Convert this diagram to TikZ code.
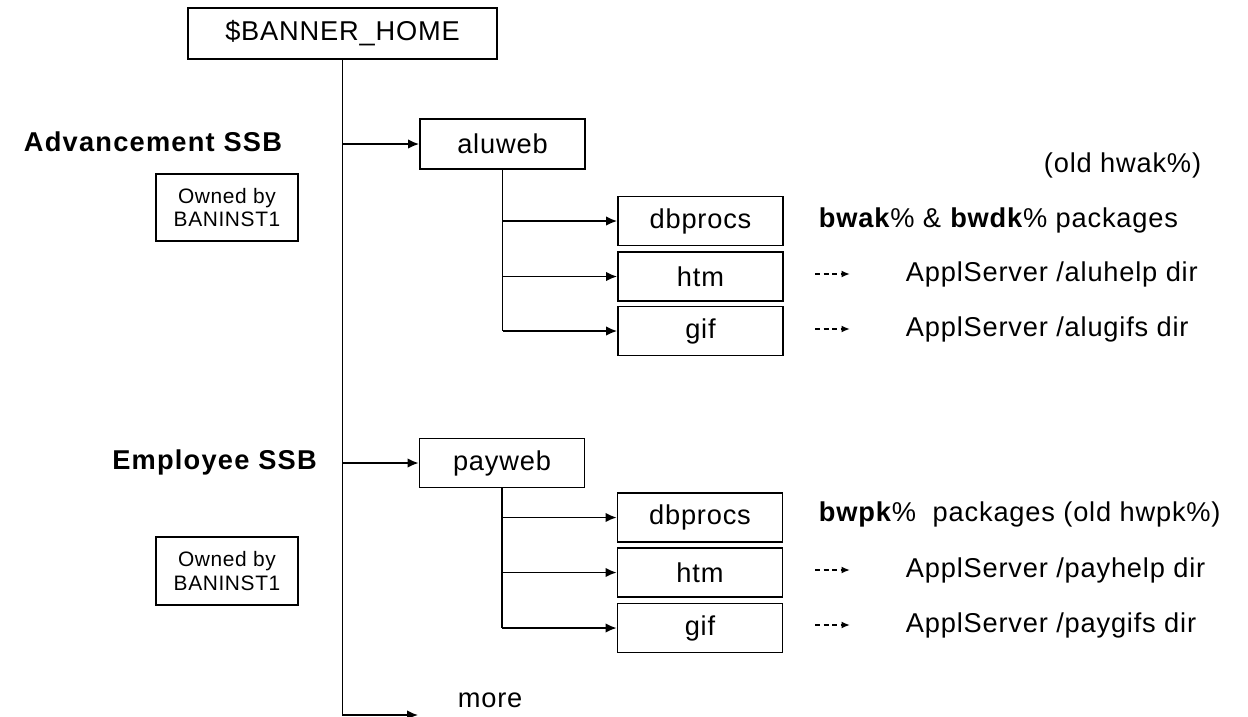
\documentclass[tikz,border=0pt]{standalone}
\usepackage{fontspec}
\setmainfont{Liberation Sans}
\newfontfamily\diafont[LetterSpace=3]{Liberation Sans}
\newfontfamily\titfont[LetterSpace=4.5]{Liberation Sans}
\usetikzlibrary{arrows.meta, positioning}

\begin{document}
\begin{tikzpicture}[x=0.02cm, y=-0.02cm, line width=1pt,
	font=\diafont\fontsize{15.5}{18}\selectfont,
	caja/.style={rectangle, draw, line width=1pt, inner sep=0pt,
		minimum width=3.3cm, minimum height=0.98cm},
	duena/.style={caja, minimum width=2.84cm, minimum height=1.35cm,
		align=center, font=\diafont\fontsize{11.9}{13.6}\selectfont},
	titulo/.style={inner sep=0pt, font=\titfont\bfseries\fontsize{15.5}{18}\selectfont},
	texto/.style={inner sep=0pt, anchor=west},
	flecha/.style={-{Latex[length=2.2mm,width=1.9mm]}},
	punteada/.style={-{Latex[length=1.7mm,width=1.4mm]}, line width=1pt,
		dash pattern=on 1mm off 0.7mm}]
	\useasboundingbox (0,0) rectangle (1248,717);
	% raiz
	\node[caja, minimum width=6.18cm, minimum height=1.02cm] (home) at (342.5,33.5) {\$BANNER\_HOME};
	\coordinate (fin) at (418,715);
	\draw[flecha] (home.south) |- (fin);
	\node[texto] (more) at (457,700) {more};
	% Advancement SSB
	\begin{scope}
		\node[titulo] (adv) at (153,142) {Advancement SSB};
		\node[duena] (own1) at (227,207.5) {Owned by\\BANINST1};
		\node[caja, minimum height=1cm] (a0) at (502.5,144) {aluweb};
		\draw[flecha] (home.south |- a0.west) -- (a0.west);
		\foreach \i/\y/\t in {1/221/dbprocs, 2/276.5/htm, 3/331/gif}{
			\node[caja] (a\i) at (700.5,\y) {\t};
			\draw[flecha] (a0.south |- a\i.west) -- (a\i.west);}
		\draw (a0.south) -- (a0.south |- a3.west);
		\node[inner sep=0pt, anchor=east] (old1) at (1202,165) {(old hwak\%)};
		\node[texto] (k1) at (818,220) {\textbf{bwak}\% \& \textbf{bwdk}\% packages};
		\node[texto] (h1) at (905,274) {ApplServer /aluhelp dir};
		\node[texto] (g1) at (905,329) {ApplServer /alugifs dir};
		\foreach \n in {h1, g1}
			{\draw[punteada, shorten >=1.1cm] ([xshift=-1.8cm]\n.west) -- (\n.west);}
	\end{scope}
	% Employee SSB
	\begin{scope}
		\node[titulo] (emp) at (214.5,462) {Employee SSB};
		\node[duena] (own2) at (227,571) {Owned by\\BANINST1};
		\node[caja] (p0) at (502,463) {payweb};
		\draw[flecha] (home.south |- p0.west) -- (p0.west);
		\foreach \i/\y/\t in {1/517.5/dbprocs, 2/572.5/htm, 3/628/gif}{
			\node[caja] (p\i) at (700,\y) {\t};
			\draw[flecha] (p0.south |- p\i.west) -- (p\i.west);}
		\draw (p0.south) -- (p0.south |- p3.west);
		\node[texto] (k2) at (818,514) {\textbf{bwpk}\%~ packages (old hwpk\%)};
		\node[texto] (h2) at (905,570) {ApplServer /payhelp dir};
		\node[texto] (g2) at (905,625) {ApplServer /paygifs dir};
		\foreach \n in {h2, g2}
			{\draw[punteada, shorten >=1.1cm] ([xshift=-1.8cm]\n.west) -- (\n.west);}
	\end{scope}
\end{tikzpicture}
\end{document}
